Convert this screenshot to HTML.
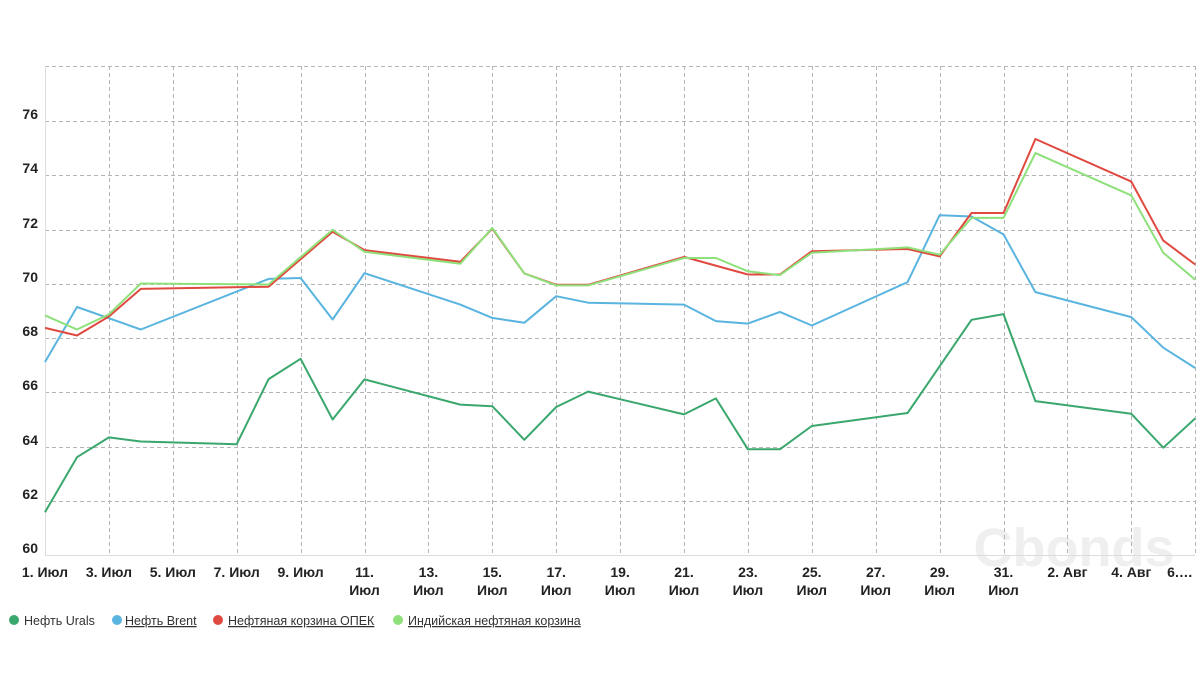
<!DOCTYPE html>
<html><head><meta charset="utf-8"><style>
body{margin:0;background:#fff;width:1204px;height:673px;overflow:hidden;font-family:"Liberation Sans",sans-serif}
</style></head><body>
<svg width="1204" height="673" viewBox="0 0 1204 673" xmlns="http://www.w3.org/2000/svg">
<text x="1074" y="566" font-size="54" font-weight="bold" fill="#efefef" text-anchor="middle" font-family="Liberation Sans,sans-serif">Cbonds</text>
<g stroke="#b5b5b5" stroke-width="1" stroke-dasharray="4,3" fill="none">
<line x1="45" y1="66.5" x2="1195" y2="66.5"/>
<line x1="45" y1="121.5" x2="1195" y2="121.5"/>
<line x1="45" y1="175.5" x2="1195" y2="175.5"/>
<line x1="45" y1="230.5" x2="1195" y2="230.5"/>
<line x1="45" y1="284.5" x2="1195" y2="284.5"/>
<line x1="45" y1="338.5" x2="1195" y2="338.5"/>
<line x1="45" y1="392.5" x2="1195" y2="392.5"/>
<line x1="45" y1="447.5" x2="1195" y2="447.5"/>
<line x1="45" y1="501.5" x2="1195" y2="501.5"/>
</g>
<g id="vg" stroke="#b5b5b5" stroke-width="1" stroke-dasharray="4,3"></g>
<line x1="45.5" y1="66" x2="45.5" y2="555" stroke="#ddd"/>
<line x1="45" y1="555.5" x2="1195" y2="555.5" stroke="#ddd"/>
<g font-size="14" font-weight="bold" fill="#222" text-anchor="end">
<text x="38" y="119">76</text><text x="38" y="173">74</text><text x="38" y="228">72</text>
<text x="38" y="282">70</text><text x="38" y="336">68</text><text x="38" y="390">66</text>
<text x="38" y="445">64</text><text x="38" y="499">62</text><text x="38" y="553">60</text>
</g>
<g id="xl" font-size="14" font-weight="bold" fill="#222" text-anchor="middle"></g>
<g fill="none" stroke-width="2" stroke-linejoin="round">
<polyline id="brent" stroke="#5ab4e0"/>
<polyline id="urals" stroke="#3aa76d"/>
<polyline id="opec" stroke="#e0493f"/>
<polyline id="india" stroke="#8ee07a"/>
</g>
<g font-size="12.5" fill="#333">
<circle cx="14" cy="620" r="5" fill="#3aa76d"/><text x="24" y="625">Нефть Urals</text>
<circle cx="117" cy="620" r="5" fill="#5ab4e0"/><text x="125" y="625" text-decoration="underline">Нефть Brent</text>
<circle cx="218" cy="620" r="5" fill="#e0493f"/><text x="228" y="625" text-decoration="underline">Нефтяная корзина ОПЕК</text>
<circle cx="398" cy="620" r="5" fill="#8ee07a"/><text x="408" y="625" text-decoration="underline">Индийская нефтяная корзина</text>
</g>
</svg>
<script>
const X=d=>45+31.95*d, Y=v=>555-(v-60)*27.1;
const s={
urals:[[0,61.58],[1,63.61],[2,64.34],[3,64.19],[6,64.09],[7,66.49],[8,67.24],[9,65.0],[10,66.48],[13,65.55],[14,65.49],[15,64.25],[16,65.46],[17,66.03],[20,65.19],[21,65.78],[22,63.9],[23,63.9],[24,64.76],[27,65.24],[29,68.68],[30,68.89],[31,65.68],[34,65.21],[35,63.96],[36,65.04]],
brent:[[0,67.12],[1,69.15],[3,68.32],[7,70.19],[8,70.22],[9,68.69],[10,70.4],[13,69.24],[14,68.75],[15,68.57],[16,69.55],[17,69.31],[20,69.24],[21,68.63],[22,68.54],[23,68.97],[24,68.47],[27,70.07],[28,72.54],[29,72.49],[30,71.83],[31,69.7],[34,68.78],[35,67.65],[36,66.9]],
opec:[[0,68.38],[1,68.1],[2,68.8],[3,69.82],[7,69.9],[9,71.93],[10,71.25],[13,70.82],[14,72.04],[15,70.39],[16,69.97],[17,69.97],[20,71.0],[22,70.35],[23,70.35],[24,71.21],[27,71.29],[28,71.02],[29,72.62],[30,72.62],[31,75.35],[34,73.78],[35,71.6],[36,70.72]],
india:[[0,68.84],[1,68.32],[2,68.88],[3,70.02],[7,69.98],[9,72.0],[10,71.19],[13,70.75],[14,72.07],[15,70.39],[16,69.95],[17,69.95],[20,70.96],[21,70.96],[22,70.47],[23,70.33],[24,71.15],[27,71.35],[28,71.08],[29,72.44],[30,72.44],[31,74.83],[34,73.27],[35,71.15],[36,70.16]]};
for(const k in s)document.getElementById(k).setAttribute('points',s[k].map(p=>X(p[0]).toFixed(1)+','+Y(p[1]).toFixed(1)).join(' '));
const NS='http://www.w3.org/2000/svg';
const vg=document.getElementById('vg'),xl=document.getElementById('xl');
for(let d=2;d<=36;d+=2){const l=document.createElementNS(NS,'line');const x=Math.round(X(d))+.5;l.setAttribute('x1',x);l.setAttribute('x2',x);l.setAttribute('y1',66);l.setAttribute('y2',555);vg.appendChild(l);}
function t(x,y,str){const e=document.createElementNS(NS,'text');e.setAttribute('x',x);e.setAttribute('y',y);e.textContent=str;xl.appendChild(e);}
for(let d=0;d<=30;d+=2){const day=d+1,x=X(d);if(day<11)t(x,577,day+'. Июл');else{t(x,577,day+'.');t(x,595,'Июл');}}
t(X(32),577,'2. Авг');t(X(34),577,'4. Авг');t(1180,577,'6.…');
</script>
</body></html>
